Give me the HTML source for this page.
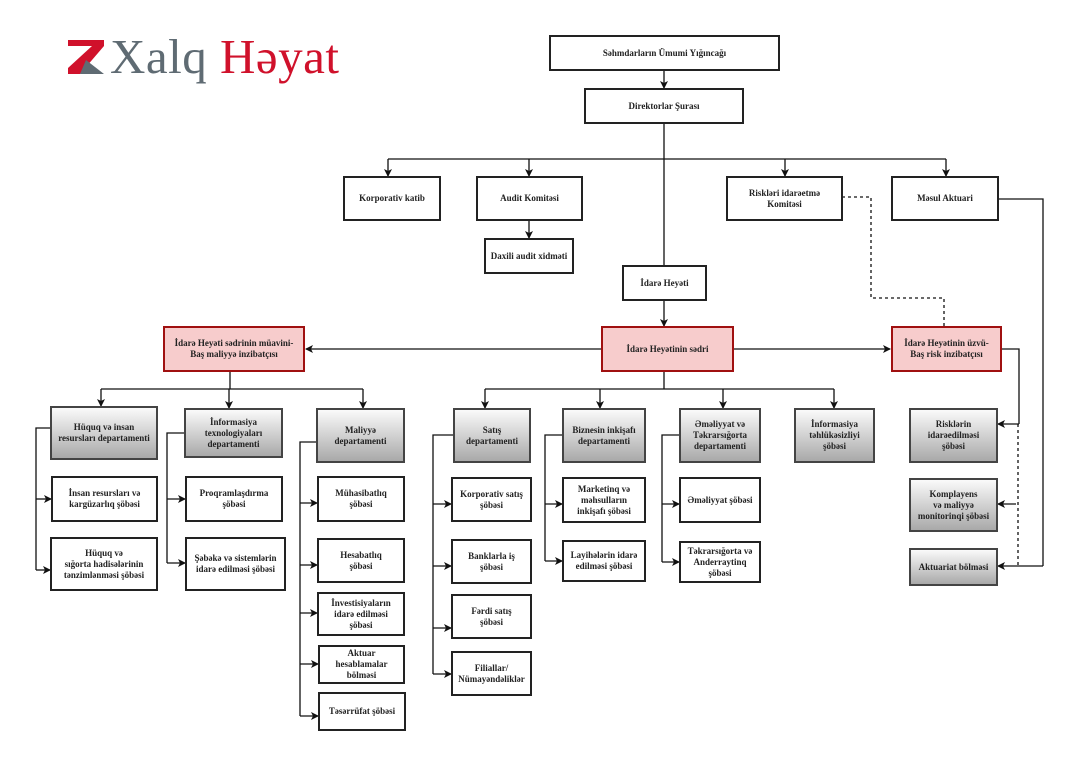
<!DOCTYPE html>
<html><head><meta charset="utf-8">
<style>
body{margin:0;width:1084px;height:766px;background:#fff;position:relative;overflow:hidden;font-family:"Liberation Serif",serif;}
.b{position:absolute;box-sizing:border-box;border:2px solid #222;background:#fff;display:flex;align-items:center;justify-content:center;text-align:center;font-weight:bold;font-size:9px;line-height:11px;color:#222;}
.g{background:linear-gradient(#fafafa,#a9a9a9);border-color:#444;}
.r{background:#f7cccc;border-color:#a01010;}
svg{position:absolute;left:0;top:0;}
.logo{position:absolute;left:110px;top:30px;font-family:"Liberation Serif",serif;font-size:49px;line-height:54px;color:#5f6b73;letter-spacing:0.5px;}
.logo span{color:#d0112b;}
</style></head><body>
<svg width="1084" height="766">
<defs><marker id="a" markerWidth="8" markerHeight="8" refX="7" refY="4" orient="auto" markerUnits="userSpaceOnUse"><path d="M0,0 L8,4 L0,8 L2,4z" fill="#111"/></marker></defs>
<polygon points="68,40 104,40 104,46 80,74 68,74 68,68 92,46 68,46" fill="#d0112b"/>
<polygon points="86,60 104,74 80,74" fill="#5f6b73"/>
<g stroke="#111" stroke-width="1.3" fill="none">
<line x1="664" y1="70" x2="664" y2="88" marker-end="url(#a)"/>
<line x1="664" y1="123" x2="664" y2="265"/>
<line x1="388" y1="159" x2="946" y2="159"/>
<line x1="388" y1="159" x2="388" y2="176" marker-end="url(#a)"/>
<line x1="529" y1="159" x2="529" y2="176" marker-end="url(#a)"/>
<line x1="785" y1="159" x2="785" y2="176" marker-end="url(#a)"/>
<line x1="946" y1="159" x2="946" y2="176" marker-end="url(#a)"/>
<line x1="529" y1="220" x2="529" y2="238" marker-end="url(#a)"/>
<line x1="664" y1="300" x2="664" y2="326" marker-end="url(#a)"/>
<line x1="601" y1="349" x2="306" y2="349" marker-end="url(#a)"/>
<line x1="733" y1="349" x2="890" y2="349" marker-end="url(#a)"/>
<polyline points="842,197 871,197 871,298 944,298 944,326" stroke-dasharray="3,3"/>
<line x1="230" y1="371" x2="230" y2="389"/>
<line x1="101" y1="389" x2="363" y2="389"/>
<line x1="101" y1="389" x2="101" y2="406" marker-end="url(#a)"/>
<line x1="229" y1="389" x2="229" y2="408" marker-end="url(#a)"/>
<line x1="363" y1="389" x2="363" y2="408" marker-end="url(#a)"/>
<polyline points="50,428 36,428 36,570"/>
<line x1="36" y1="499" x2="51" y2="499" marker-end="url(#a)"/>
<line x1="36" y1="570" x2="50" y2="570" marker-end="url(#a)"/>
<polyline points="184,433 167,433 167,563"/>
<line x1="167" y1="499" x2="185" y2="499" marker-end="url(#a)"/>
<line x1="167" y1="563" x2="185" y2="563" marker-end="url(#a)"/>
<polyline points="316,442 300,442 300,716"/>
<line x1="300" y1="503" x2="317" y2="503" marker-end="url(#a)"/>
<line x1="300" y1="565" x2="317" y2="565" marker-end="url(#a)"/>
<line x1="300" y1="613" x2="317" y2="613" marker-end="url(#a)"/>
<line x1="300" y1="664" x2="318" y2="664" marker-end="url(#a)"/>
<line x1="300" y1="716" x2="318" y2="716" marker-end="url(#a)"/>
<line x1="664" y1="371" x2="664" y2="389"/>
<line x1="485" y1="389" x2="834" y2="389"/>
<line x1="485" y1="389" x2="485" y2="408" marker-end="url(#a)"/>
<line x1="600" y1="389" x2="600" y2="408" marker-end="url(#a)"/>
<line x1="723" y1="389" x2="723" y2="408" marker-end="url(#a)"/>
<line x1="834" y1="389" x2="834" y2="408" marker-end="url(#a)"/>
<polyline points="453,435 433,435 433,674"/>
<line x1="433" y1="504" x2="451" y2="504" marker-end="url(#a)"/>
<line x1="433" y1="566" x2="451" y2="566" marker-end="url(#a)"/>
<line x1="433" y1="628" x2="451" y2="628" marker-end="url(#a)"/>
<line x1="433" y1="674" x2="451" y2="674" marker-end="url(#a)"/>
<polyline points="562,435 545,435 545,561"/>
<line x1="545" y1="504" x2="562" y2="504" marker-end="url(#a)"/>
<line x1="545" y1="561" x2="562" y2="561" marker-end="url(#a)"/>
<polyline points="679,435 662,435 662,562"/>
<line x1="662" y1="504" x2="679" y2="504" marker-end="url(#a)"/>
<line x1="662" y1="562" x2="679" y2="562" marker-end="url(#a)"/>
<polyline points="1001,349 1019,349 1019,424"/>
<line x1="1019" y1="424" x2="998" y2="424" marker-end="url(#a)"/>
<line x1="1018" y1="424" x2="1018" y2="566" stroke-dasharray="3,3"/>
<line x1="1016" y1="504" x2="998" y2="504" marker-end="url(#a)"/>
<polyline points="998,199 1043,199 1043,566"/>
<line x1="1043" y1="566" x2="998" y2="566" marker-end="url(#a)"/>
</g>
</svg>
<div class="logo">Xalq <span>Həyat</span></div>

<div class="b" style="left:549px;top:35px;width:231px;height:36px">Səhmdarların Ümumi Yığıncağı</div>
<div class="b" style="left:584px;top:88px;width:160px;height:36px">Direktorlar Şurası</div>
<div class="b" style="left:343px;top:176px;width:98px;height:45px">Korporativ katib</div>
<div class="b" style="left:476px;top:176px;width:107px;height:45px">Audit Komitəsi</div>
<div class="b" style="left:484px;top:238px;width:90px;height:36px">Daxili audit xidməti</div>
<div class="b" style="left:726px;top:176px;width:117px;height:45px">Riskləri idarəetmə<br>Komitəsi</div>
<div class="b" style="left:891px;top:176px;width:108px;height:45px">Məsul Aktuari</div>
<div class="b" style="left:622px;top:265px;width:85px;height:36px">İdarə Heyəti</div>

<div class="b r" style="left:601px;top:326px;width:133px;height:46px">İdarə Heyətinin sədri</div>
<div class="b r" style="left:163px;top:326px;width:142px;height:46px">İdarə Heyəti sədrinin müavini-<br>Baş maliyyə inzibatçısı</div>
<div class="b r" style="left:891px;top:326px;width:111px;height:46px">İdarə Heyətinin üzvü-<br>Baş risk inzibatçısı</div>

<div class="b g" style="left:50px;top:406px;width:108px;height:54px">Hüquq və insan<br>resursları departamenti</div>
<div class="b g" style="left:184px;top:408px;width:99px;height:50px">İnformasiya<br>texnologiyaları<br>departamenti</div>
<div class="b g" style="left:316px;top:408px;width:89px;height:55px">Maliyyə<br>departamenti</div>
<div class="b" style="left:51px;top:476px;width:107px;height:46px">İnsan resursları və<br>kargüzarlıq şöbəsi</div>
<div class="b" style="left:50px;top:537px;width:108px;height:54px">Hüquq və<br>sığorta hadisələrinin<br>tənzimlənməsi şöbəsi</div>
<div class="b" style="left:185px;top:476px;width:98px;height:46px">Proqramlaşdırma<br>şöbəsi</div>
<div class="b" style="left:185px;top:537px;width:101px;height:54px">Şəbəkə və sistemlərin<br>idarə edilməsi şöbəsi</div>
<div class="b" style="left:317px;top:476px;width:88px;height:46px">Mühasibatlıq<br>şöbəsi</div>
<div class="b" style="left:317px;top:538px;width:88px;height:45px">Hesabatlıq<br>şöbəsi</div>
<div class="b" style="left:317px;top:592px;width:88px;height:44px">İnvestisiyaların<br>idarə edilməsi<br>şöbəsi</div>
<div class="b" style="left:318px;top:645px;width:87px;height:39px">Aktuar<br>hesablamalar<br>bölməsi</div>
<div class="b" style="left:318px;top:692px;width:88px;height:39px">Təsərrüfat şöbəsi</div>

<div class="b g" style="left:453px;top:408px;width:78px;height:55px">Satış<br>departamenti</div>
<div class="b g" style="left:562px;top:408px;width:84px;height:55px">Biznesin inkişafı<br>departamenti</div>
<div class="b g" style="left:679px;top:408px;width:82px;height:55px">Əməliyyat və<br>Təkrarsığorta<br>departamenti</div>
<div class="b g" style="left:794px;top:408px;width:81px;height:55px">İnformasiya<br>təhlükəsizliyi<br>şöbəsi</div>
<div class="b" style="left:451px;top:477px;width:81px;height:45px">Korporativ satış<br>şöbəsi</div>
<div class="b" style="left:451px;top:539px;width:81px;height:45px">Banklarla iş<br>şöbəsi</div>
<div class="b" style="left:451px;top:594px;width:81px;height:45px">Fərdi satış<br>şöbəsi</div>
<div class="b" style="left:451px;top:651px;width:81px;height:45px">Filiallar/<br>Nümayəndəliklər</div>
<div class="b" style="left:562px;top:477px;width:84px;height:46px">Marketinq və<br>məhsulların<br>inkişafı şöbəsi</div>
<div class="b" style="left:562px;top:540px;width:84px;height:42px">Layihələrin idarə<br>edilməsi şöbəsi</div>
<div class="b" style="left:679px;top:477px;width:82px;height:46px">Əməliyyat şöbəsi</div>
<div class="b" style="left:679px;top:541px;width:82px;height:42px">Təkrarsığorta və<br>Anderraytinq<br>şöbəsi</div>

<div class="b g" style="left:909px;top:408px;width:89px;height:55px">Risklərin<br>idarəedilməsi<br>şöbəsi</div>
<div class="b g" style="left:909px;top:478px;width:89px;height:54px">Komplayens<br>və maliyyə<br>monitorinqi şöbəsi</div>
<div class="b g" style="left:909px;top:548px;width:89px;height:38px">Aktuariat bölməsi</div>
</body></html>
